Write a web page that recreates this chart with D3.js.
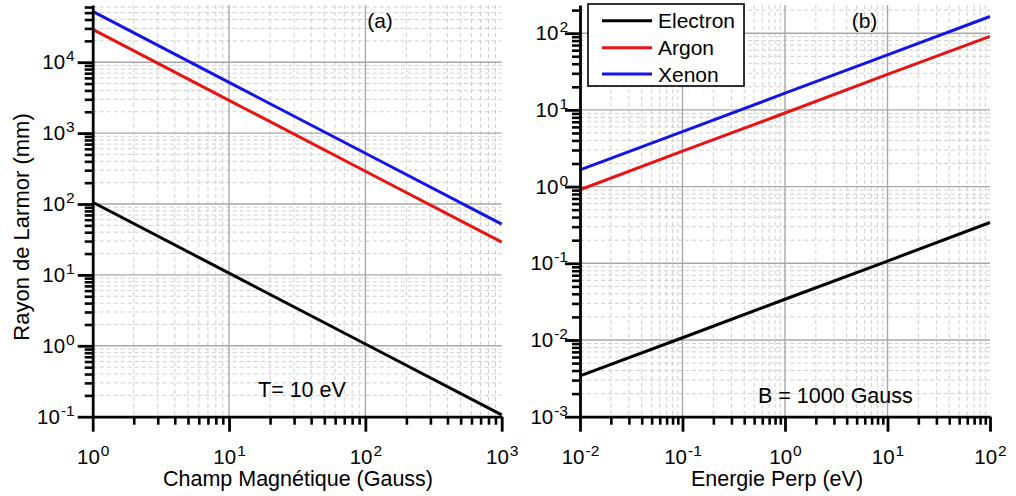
<!DOCTYPE html>
<html>
<head>
<meta charset="utf-8">
<script src="https://cdn.jsdelivr.net/npm/d3@7"></script>
<style>
  html, body { margin: 0; padding: 0; background: #fff; }
  svg { display: block; font-family: "Liberation Sans", Arial, sans-serif; }
</style>
</head>
<body>
<svg id="chart" width="1016" height="496"></svg>
<script>
// ---------- data ----------
const seriesNames = ["Electron", "Argon", "Xenon"];
const seriesColors = ["#000000", "#e81414", "#1414e8"];

// panel (a): Larmor radius (mm) vs magnetic field (Gauss), T = 10 eV
const fieldGauss = [1, 10, 100, 1000];
const electronA = [106, 10.6, 1.06, 0.106];
const argonA = [29000, 2900, 290, 29];
const xenonA = [52000, 5200, 520, 52];

// panel (b): Larmor radius (mm) vs perpendicular energy (eV), B = 1000 Gauss
const energyEv = [0.01, 0.1, 1, 10, 100];
const electronB = [0.0034, 0.0107, 0.034, 0.107, 0.34];
const argonB = [0.91, 2.9, 9.1, 29, 91];
const xenonB = [1.65, 5.2, 16.5, 52, 165];

// axis tick labels (decades)
const xTicksA = [1, 10, 100, 1000];
const yTicksA = [0.1, 1, 10, 100, 1000, 10000];
const xTicksB = [0.01, 0.1, 1, 10, 100];
const yTicksB = [0.001, 0.01, 0.1, 1, 10, 100];

// ---------- drawing ----------
const svg = d3.select("#chart");
const FONT = "\"Liberation Sans\", Arial, sans-serif";

function minorTicks(domain) {
  const out = [];
  const lo = Math.floor(Math.log10(domain[0]));
  const hi = Math.ceil(Math.log10(domain[1]));
  for (let d = lo; d <= hi; d++) {
    for (let k = 2; k <= 9; k++) {
      const v = k * Math.pow(10, d);
      if (v > domain[0] * 1.0001 && v < domain[1] * 0.9999) out.push(v);
    }
  }
  return out;
}

function powLabel(sel, size, supSize) {
  sel.each(function (d) {
    const t = d3.select(this);
    const e = Math.round(Math.log10(d));
    t.text(null).attr("font-size", size).attr("font-family", FONT).attr("fill", "#000");
    t.append("tspan").text("10");
    t.append("tspan").attr("font-size", supSize).attr("dy", -8).attr("dx", 1).text(String(e));
  });
}

function panel(cfg) {
  const top = 5, bottom = 416.7;
  const x = d3.scaleLog().domain(cfg.xDomain).range([cfg.left, cfg.right]);
  const y = d3.scaleLog().domain(cfg.yDomain).range([bottom, top]);
  const g = svg.append("g");

  const xMin = minorTicks(cfg.xDomain), yMin = minorTicks(cfg.yDomain);

  // minor grid (dashed)
  const grid = g.append("g");
  grid.selectAll("line.vx").data(xMin).join("line")
    .attr("class", "vx")
    .attr("x1", d => x(d)).attr("x2", d => x(d)).attr("y1", top).attr("y2", bottom)
    .attr("stroke", "#cfcfcf").attr("stroke-width", 1).attr("stroke-dasharray", "4,3");
  grid.selectAll("line.hy").data(yMin).join("line")
    .attr("class", "hy")
    .attr("x1", cfg.left).attr("x2", cfg.right).attr("y1", d => y(d)).attr("y2", d => y(d))
    .attr("stroke", "#cfcfcf").attr("stroke-width", 1).attr("stroke-dasharray", "4,3");
  // major grid (solid)
  const xMaj = cfg.xTicks.filter(v => v > cfg.xDomain[0] && v < cfg.xDomain[1]);
  const yMaj = cfg.yTicks.filter(v => v > cfg.yDomain[0] && v < cfg.yDomain[1]);
  grid.selectAll("line.mx").data(xMaj).join("line")
    .attr("class", "mx")
    .attr("x1", d => x(d)).attr("x2", d => x(d)).attr("y1", top).attr("y2", bottom)
    .attr("stroke", "#a8a8a8").attr("stroke-width", 1.4);
  grid.selectAll("line.my").data(yMaj).join("line")
    .attr("class", "my")
    .attr("x1", cfg.left).attr("x2", cfg.right).attr("y1", d => y(d)).attr("y2", d => y(d))
    .attr("stroke", "#a8a8a8").attr("stroke-width", 1.4);

  // data lines
  const line = d3.line().x((d, i) => x(cfg.xs[i])).y(d => y(d));
  cfg.series.forEach((vals, i) => {
    g.append("path").datum(vals)
      .attr("d", line)
      .attr("fill", "none")
      .attr("stroke", seriesColors[i])
      .attr("stroke-width", 3);
  });

  // axes: minor ticks
  const axMinX = g.append("g").attr("transform", `translate(0,${bottom})`)
    .call(d3.axisBottom(x).tickValues(xMin).tickSize(8).tickFormat(""));
  axMinX.select(".domain").remove();
  const axMinY = g.append("g").attr("transform", `translate(${cfg.left},0)`)
    .call(d3.axisLeft(y).tickValues(yMin).tickSize(8).tickFormat(""));
  axMinY.select(".domain").remove();
  [axMinX, axMinY].forEach(a => a.selectAll("line").attr("stroke", "#000").attr("stroke-width", 2.6));

  // axes: major ticks + labels
  const axX = g.append("g").attr("transform", `translate(0,${bottom})`)
    .call(d3.axisBottom(x).tickValues(cfg.xTicks).tickSize(15).tickSizeOuter(0).tickPadding(18));
  const axY = g.append("g").attr("transform", `translate(${cfg.left},0)`)
    .call(d3.axisLeft(y).tickValues(cfg.yTicks).tickSize(15).tickSizeOuter(0).tickPadding(cfg.yPad));
  [axX, axY].forEach(a => {
    a.select(".domain").attr("stroke", "#000").attr("stroke-width", 2.8);
    a.selectAll("line").attr("stroke", "#000").attr("stroke-width", 2.8);
  });
  powLabel(axX.selectAll("text"), "20.5px", "15.5px");
  powLabel(axY.selectAll("text"), "20.5px", "15.5px");

  // axis title
  g.append("text").attr("x", cfg.titleX).attr("y", 486)
    .attr("text-anchor", "middle").attr("font-size", "21.5px").attr("font-family", FONT)
    .text(cfg.xTitle);

  // panel tag
  g.append("text").attr("x", cfg.tagX).attr("y", 28)
    .attr("text-anchor", "middle").attr("font-size", "21px").attr("font-family", FONT)
    .text(cfg.tag);

  // annotation
  g.append("text").attr("x", cfg.noteX).attr("y", cfg.noteY)
    .attr("font-size", "21.5px").attr("font-family", FONT)
    .text(cfg.note);

  return { x, y, g };
}

panel({
  left: 92.7, right: 501.7,
  xDomain: [1, 1000], yDomain: [0.1, 64100],
  xTicks: xTicksA, yTicks: yTicksA, yPad: 3,
  xs: fieldGauss, series: [electronA, argonA, xenonA],
  xTitle: "Champ Magnétique (Gauss)", titleX: 298,
  tag: "(a)", tagX: 380,
  note: "T= 10 eV", noteX: 258, noteY: 397
});

panel({
  left: 580, right: 990,
  xDomain: [0.01, 100], yDomain: [0.001, 233],
  xTicks: xTicksB, yTicks: yTicksB, yPad: -3,
  xs: energyEv, series: [electronB, argonB, xenonB],
  xTitle: "Energie Perp (eV)", titleX: 777,
  tag: "(b)", tagX: 864.5,
  note: "B = 1000 Gauss", noteX: 758, noteY: 403
});

// y title (left panel only)
svg.append("text")
  .attr("transform", "translate(29,227) rotate(-90)")
  .attr("text-anchor", "middle").attr("font-size", "22px").attr("font-family", FONT)
  .text("Rayon de Larmor (mm)");

// legend
const leg = svg.append("g");
leg.append("rect").attr("x", 588).attr("y", 4).attr("width", 156).attr("height", 82)
  .attr("fill", "#fff").attr("stroke", "#000").attr("stroke-width", 1.6);
const legRows = [20.7, 47.8, 74];
seriesNames.forEach((name, i) => {
  leg.append("line").attr("x1", 602).attr("x2", 652).attr("y1", legRows[i]).attr("y2", legRows[i])
    .attr("stroke", seriesColors[i]).attr("stroke-width", 3);
  leg.append("text").attr("x", 658).attr("y", legRows[i]).attr("dy", "0.36em")
    .attr("font-size", "21px").attr("font-family", FONT).text(name);
});
</script>
</body>
</html>
